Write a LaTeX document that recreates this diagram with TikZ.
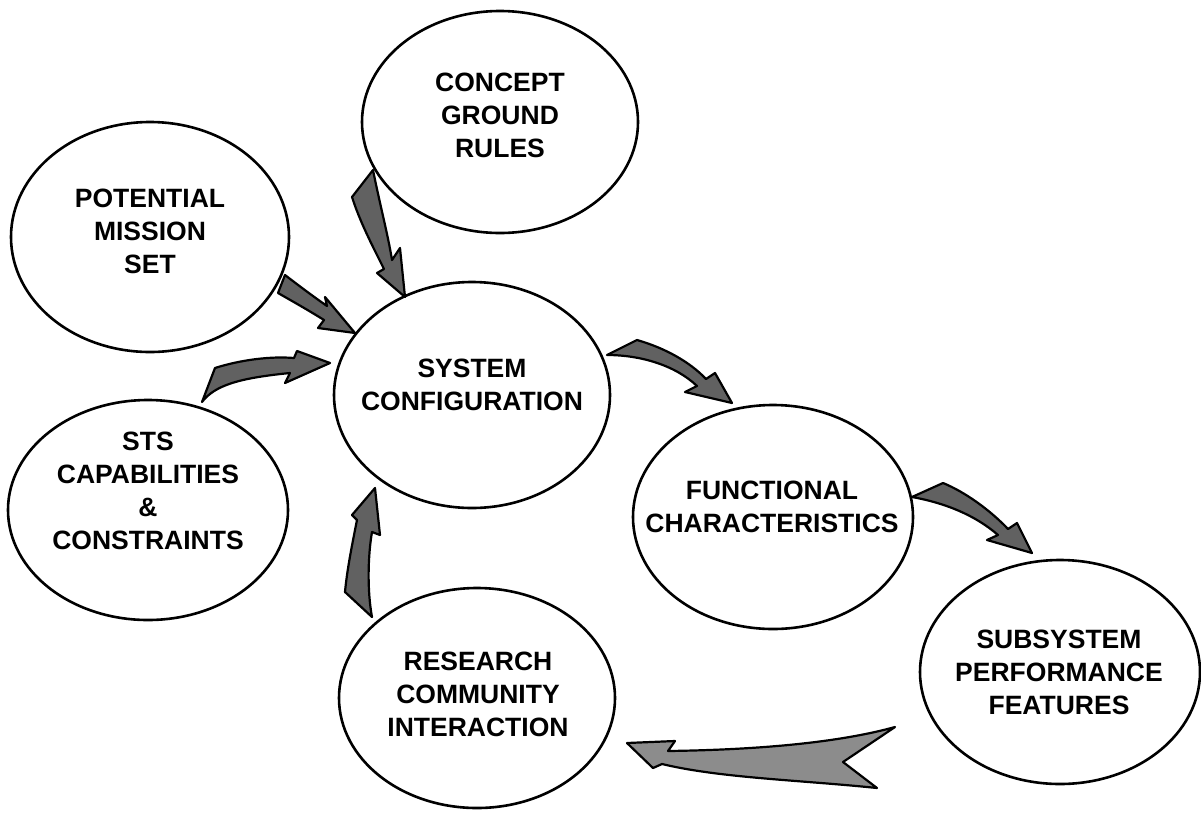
\documentclass[tikz,border=0pt]{standalone}
\usepackage{fontspec}
\setmainfont{Liberation Sans}
\usetikzlibrary{shapes.geometric}
\begin{document}
\begin{tikzpicture}[x=1pt,y=-1pt,
  ell/.style={draw, line width=2.6pt, ellipse, inner sep=0pt},
  lbl/.style={font=\fontsize{26.5}{33}\selectfont\bfseries, align=center, inner sep=0pt},
  swoosh/.style={fill=black!62, draw=black, line width=2.2pt, line join=round},
  lightswoosh/.style={swoosh, fill=black!45}]
\useasboundingbox (0,0) rectangle (1201,812);
% ellipses
\node[ell, minimum width=276, minimum height=222] (concept) at (500,122) {};
\node[ell, minimum width=278, minimum height=230] (potential) at (150,237) {};
\node[ell, minimum width=276, minimum height=226] (system) at (472,395) {};
\node[ell, minimum width=280, minimum height=220] (sts) at (148,510) {};
\node[ell, minimum width=280, minimum height=224] (functional) at (773,517) {};
\node[ell, minimum width=280, minimum height=224] (subsystem) at (1060,672) {};
\node[ell, minimum width=276, minimum height=220] (research) at (477,698) {};
% labels
\node[lbl] (conceptT) at (500,115) {CONCEPT\\GROUND\\RULES};
\node[lbl] (potentialT) at (150,231) {POTENTIAL\\MISSION\\SET};
\node[lbl] (systemT) at (472,385) {SYSTEM\\CONFIGURATION};
\node[lbl] (stsT) at (148,491) {STS\\CAPABILITIES\\\&\\CONSTRAINTS};
\node[lbl] (functionalT) at (772,507) {FUNCTIONAL\\CHARACTERISTICS};
\node[lbl] (subsystemT) at (1059,672) {SUBSYSTEM\\PERFORMANCE\\FEATURES};
\node[lbl] (researchT) at (478,694) {RESEARCH\\COMMUNITY\\INTERACTION};
% arrows
% concept -> system
\path[swoosh] (373,170) .. controls (380,205) and (388,235) .. (392,260) -- (400,248) -- (405,297) -- (377,273) -- (384,269) .. controls (372,245) and (360,222) .. (352,197) -- cycle;
% potential -> system
\path[swoosh] (285,275) .. controls (298,285) and (314,297) .. (327,306) -- (325,297) -- (355,333) -- (318,328) -- (324,320) .. controls (308,310) and (292,301) .. (278,293) -- cycle;
% sts -> system
\path[swoosh] (202,402) .. controls (215,385) and (240,378) .. (290,373) -- (285,383) -- (330,363) -- (297,351) -- (294,358) .. controls (270,356) and (240,360) .. (215,368) -- cycle;
% research -> system
\path[swoosh] (372,617) .. controls (367,590) and (368,555) .. (372,532) -- (380,535) -- (375,488) -- (352,515) -- (357,520) .. controls (352,545) and (347,570) .. (345,592) -- cycle;
% system -> functional
\path[swoosh] (607,355) .. controls (640,355) and (675,365) .. (697,386) -- (685,392) -- (732,403) -- (715,373) -- (706,379) .. controls (690,362) and (665,348) .. (637,340) -- cycle;
% functional -> subsystem
\path[swoosh] (912,497) .. controls (945,503) and (975,515) .. (998,535) -- (987,540) -- (1032,553) -- (1017,523) -- (1008,529) .. controls (990,510) and (965,492) .. (943,483) -- cycle;
% subsystem -> research
\path[lightswoosh] (895,727) -- (843,762) -- (877,788) .. controls (800,780) and (720,778) .. (662,764) -- (653,768) -- (627,743) -- (675,741) -- (668,751) .. controls (740,750) and (830,745) .. (895,727) -- cycle;
\end{tikzpicture}
\end{document}
